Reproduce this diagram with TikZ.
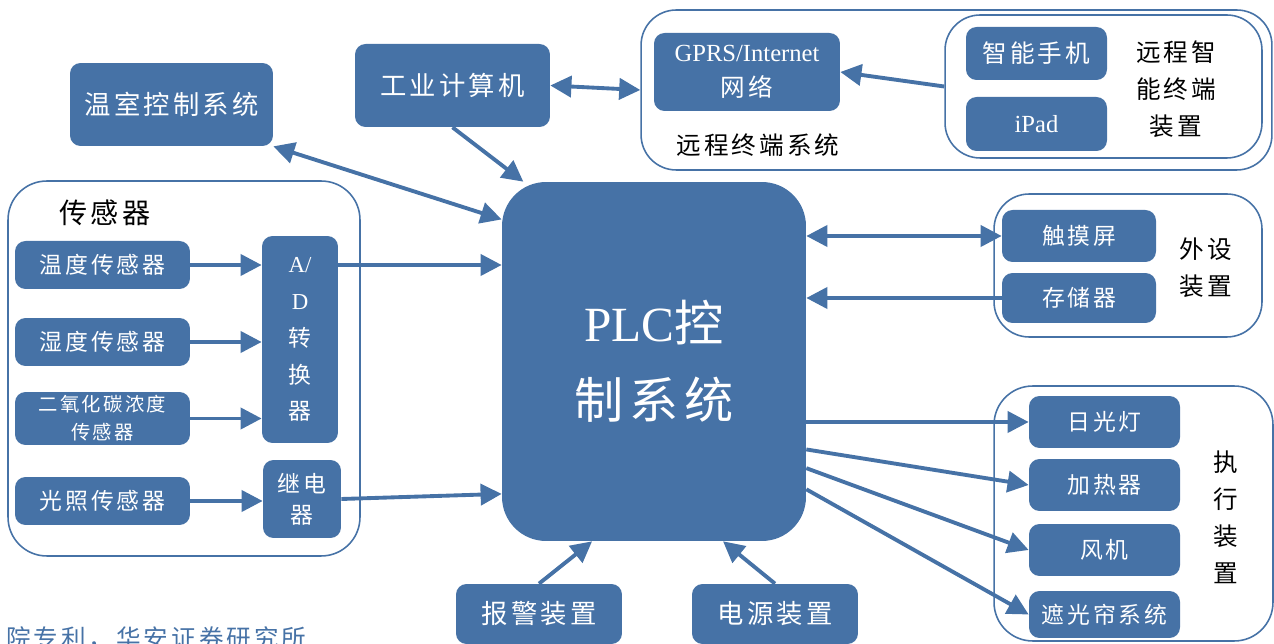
\documentclass[tikz,border=0pt]{standalone}
\usepackage{fontspec}
\usepackage{xcolor}
\usepackage{tikz}
\usetikzlibrary{positioning, arrows.meta}
\setmainfont{Liberation Serif}
\newfontfamily\cjk[LetterSpace=12]{Noto Sans CJK SC}
\definecolor{plcblue}{RGB}{70,114,166}

\begin{document}
\begin{tikzpicture}[x=0.02cm,y=-0.02cm]
					\tikzstyle{unitbox}=[fill=plcblue,text=white,rounded corners=6pt,align=center,inner sep=0pt,font=\cjk\fontsize{13}{18}\selectfont]
					\tikzstyle{groupframe}=[draw=plcblue,line width=0.9pt,rounded corners=20pt,inner sep=0pt]
					\tikzstyle{frametext}=[text=black,align=center,font=\cjk\fontsize{14}{21}\selectfont]
					\tikzstyle{oneway}=[color=plcblue,line width=2.2pt,-{Triangle[length=12pt,width=12pt]}]
					\tikzstyle{twoway}=[color=plcblue,line width=2.2pt,{Triangle[length=12pt,width=12pt]}-{Triangle[length=12pt,width=12pt]}]
					\useasboundingbox (0,0) rectangle (1274,644);
					\clip (0,0) rectangle (1274,644);

					% frames
					\node[groupframe,minimum width=12.62cm,minimum height=3.2cm](remote) at (956.5,90) {};
					\node[groupframe,minimum width=6.34cm,minimum height=2.86cm](smart) at (1103.5,86.5) {};
					\node[groupframe,rounded corners=22pt,minimum width=7.04cm,minimum height=7.5cm](sensors) at (184,368.5) {};
					\node[groupframe,minimum width=5.36cm,minimum height=2.86cm](periph) at (1128,265.5) {};
					\node[groupframe,rounded corners=22pt,minimum width=5.58cm,minimum height=5.1cm](actors) at (1133.5,513.5) {};

					% PLC
					\node[unitbox,rounded corners=25pt,minimum width=6.08cm,minimum height=7.18cm,font=\cjk\fontsize{28}{44}\selectfont](plc) at (654,361.5) {{\rmfamily PLC}控\\制系统};

					% top
					\node[unitbox,minimum width=4.06cm,minimum height=1.66cm,font=\cjk\fontsize{15}{20}\selectfont](greenhouse) at (171.5,104.5) {温室控制系统};
					\node[unitbox,minimum width=3.9cm,minimum height=1.66cm,font=\cjk\fontsize{15}{20}\selectfont](pc) at (452.5,85.5) {工业计算机};
					\node[unitbox,minimum width=3.72cm,minimum height=1.56cm,font=\cjk\fontsize{14}{20}\selectfont](gprs) at (747,72) {{\rmfamily GPRS/Internet}\\网络};
					\node[frametext](remotetext) at (758,145) {远程终端系统};
					\node[unitbox,minimum width=2.82cm,minimum height=1.06cm,font=\cjk\fontsize{14}{20}\selectfont](phone) at (1036.5,53.5) {智能手机};
					\node[unitbox,minimum width=2.82cm,minimum height=1.08cm,font=\cjk\fontsize{14}{20}\selectfont](ipad) at (1036.5,124) {{\rmfamily iPad}};
					\node[frametext](smarttext) at (1176,89) {远程智\\能终端\\装置};

					% sensors
					\node[frametext,font=\cjk\fontsize{16}{20}\selectfont](sensortext) at (105,213) {传感器};
					\node[unitbox,minimum width=3.5cm,minimum height=0.96cm](s1) at (102.5,265) {温度传感器};
					\node[unitbox,minimum width=3.5cm,minimum height=0.96cm](s2) at (102.5,342) {湿度传感器};
					\node[unitbox,minimum width=3.5cm,minimum height=1.06cm,font=\cjk\fontsize{11}{16}\selectfont](s3) at (102.5,418.5) {二氧化碳浓度\\传感器};
					\node[unitbox,minimum width=3.5cm,minimum height=0.96cm](s4) at (102.5,501) {光照传感器};
					\node[unitbox,minimum width=1.52cm,minimum height=4.14cm,font=\cjk\fontsize{13}{21}\selectfont](ad) at (300,339.5) {{\rmfamily A/}\\{\rmfamily D}\\转\\换\\器};
					\node[unitbox,minimum width=1.56cm,minimum height=1.56cm,font=\cjk\fontsize{13}{17.5}\selectfont](relay) at (302,499) {继电\\器};

					% peripherals
					\node[unitbox,minimum width=3.08cm,minimum height=1.04cm](touch) at (1079,236) {触摸屏};
					\node[unitbox,minimum width=3.08cm,minimum height=1cm](storage) at (1079,298) {存储器};
					\node[frametext](periphtext) at (1206,268) {外设\\装置};

					% actuators
					\node[unitbox,minimum width=3.02cm,minimum height=1.04cm](a1) at (1104.5,422) {日光灯};
					\node[unitbox,minimum width=3.02cm,minimum height=1.04cm](a2) at (1104.5,485) {加热器};
					\node[unitbox,minimum width=3.02cm,minimum height=1.04cm](a3) at (1104.5,550) {风机};
					\node[unitbox,minimum width=3.02cm,minimum height=0.94cm](a4) at (1104.5,614.5) {遮光帘系统};
					\node[frametext](actortext) at (1226,517) {执\\行\\装\\置};

					% bottom
					\node[unitbox,minimum width=3.32cm,minimum height=1.2cm,font=\cjk\fontsize{15}{20}\selectfont](alarm) at (539,614) {报警装置};
					\node[unitbox,minimum width=3.32cm,minimum height=1.2cm,font=\cjk\fontsize{15}{20}\selectfont](power) at (775,614) {电源装置};
					\node[anchor=west,text=plcblue,font=\cjk\fontsize{14}{20}\selectfont](source) at (0,638) {院专利，华安证券研究所};

					\path[twoway]
						(greenhouse.south east) edge (plc.137)
						(pc.east) edge (remote.west)
						(touch.west -| plc.east) edge (touch.west);
					\path[oneway]
						(pc.south) edge (plc.126)
						(smart.west) edge (gprs.east)
						(storage.west) edge (storage.west -| plc.east)

						(s1.east) edge (s1.east -| ad.west)
						(s2.east) edge (s2.east -| ad.west)
						(s3.east) edge (s3.east -| ad.west)
						(s4.east) edge (s4.east -| relay.west)
						(ad.east |- s1.east) edge (s1.east -| plc.west)
						(relay.east) edge (plc.221)

						(a1.west -| plc.east) edge (a1.west)
						(plc.-30) edge (a2.west)
						(plc.-35) edge (a3.west)
						(plc.-40) edge (a4.west)

						(alarm.north) edge (plc.251)
						(power.north) edge (plc.-69);
				\end{tikzpicture}
\end{document}
